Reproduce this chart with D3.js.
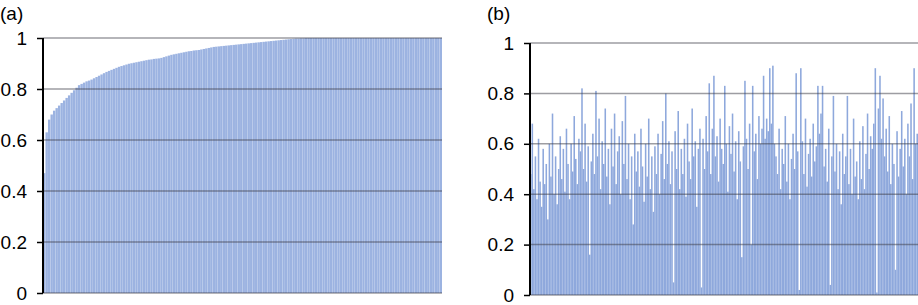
<!DOCTYPE html>
<html>
<head>
<meta charset="utf-8">
<script src="https://cdn.jsdelivr.net/npm/d3@7"></script>
<style>
  body { margin: 0; background: #fff; }
  svg { display: block; font-family: "Liberation Sans", Arial, Helvetica, sans-serif; }
</style>
</head>
<body>
<div class="draw"></div>
<script>
const width = 918
const height = 305

// panel (a): sorted values, rising steeply and levelling off at 1
const valuesA = [
  0.47, 0.63, 0.68, 0.70, 0.715, 0.725, 0.735, 0.745, 0.755, 0.765,
  0.775, 0.785, 0.795, 0.805, 0.815, 0.82, 0.825, 0.83, 0.833, 0.837,
  0.842, 0.847, 0.852, 0.857, 0.862, 0.867, 0.871, 0.875, 0.879, 0.883,
  0.887, 0.89, 0.893, 0.896, 0.899, 0.901, 0.903, 0.905, 0.907, 0.909,
  0.911, 0.913, 0.915, 0.916, 0.918, 0.919, 0.92, 0.922, 0.925, 0.928,
  0.931, 0.934, 0.936, 0.938, 0.94, 0.942, 0.944, 0.946, 0.948, 0.949,
  0.951, 0.952, 0.953, 0.955, 0.957, 0.959, 0.961, 0.963, 0.965, 0.966,
  0.967, 0.968, 0.969, 0.97, 0.971, 0.972, 0.973, 0.974, 0.975, 0.976,
  0.977, 0.978, 0.979, 0.98, 0.981, 0.982, 0.983, 0.984, 0.985, 0.986,
  0.987, 0.988, 0.989, 0.99, 0.991, 0.992, 0.993, 0.994, 0.995, 0.996,
  0.997, 0.998, 0.998, 0.999, 0.999, 1, 1, 1, 1, 1,
  1, 1, 1, 1, 1, 1, 1, 1, 1, 1,
  1, 1, 1, 1, 1, 1, 1, 1, 1, 1,
  1, 1, 1, 1, 1, 1, 1, 1, 1, 1,
  1, 1, 1, 1, 1, 1, 1, 1, 1, 1,
  1, 1, 1, 1, 1, 1, 1, 1, 1, 1
]

// panel (b): unsorted, noisy values
const valuesB = [
  0.48, 0.68, 0.42, 0.55, 0.38, 0.62, 0.45, 0.35, 0.58, 0.44,
  0.52, 0.30, 0.60, 0.47, 0.72, 0.40, 0.55, 0.36, 0.50, 0.63,
  0.46, 0.58, 0.41, 0.66, 0.52, 0.38, 0.60, 0.49, 0.71, 0.54,
  0.44, 0.62, 0.57, 0.82, 0.50, 0.68, 0.45, 0.59, 0.16, 0.53,
  0.64, 0.48, 0.81, 0.55, 0.70, 0.42, 0.61, 0.52, 0.74, 0.47,
  0.58, 0.36, 0.66, 0.51, 0.72, 0.44, 0.57, 0.63, 0.40, 0.69,
  0.52, 0.79, 0.46, 0.60, 0.38, 0.55, 0.28, 0.64, 0.49, 0.57,
  0.43, 0.66, 0.51, 0.37, 0.60, 0.47, 0.70, 0.42, 0.55, 0.33,
  0.59, 0.48, 0.64, 0.40, 0.56, 0.69, 0.46, 0.80, 0.52, 0.61,
  0.44, 0.57, 0.05, 0.65, 0.50, 0.73, 0.42, 0.58, 0.48, 0.62,
  0.39, 0.68, 0.53, 0.46, 0.74, 0.55, 0.61, 0.35, 0.58, 0.66,
  0.03, 0.62, 0.50, 0.71, 0.57, 0.84, 0.48, 0.66, 0.87, 0.55,
  0.63, 0.45, 0.70, 0.58, 0.52, 0.83, 0.60, 0.41, 0.67, 0.56,
  0.72, 0.49, 0.61, 0.38, 0.65, 0.53, 0.15, 0.59, 0.85, 0.62,
  0.50, 0.68, 0.20, 0.83, 0.57, 0.64, 0.46, 0.71, 0.60, 0.66,
  0.87, 0.62, 0.70, 0.65, 0.90, 0.68, 0.91, 0.60, 0.55, 0.48,
  0.66, 0.42, 0.58, 0.52, 0.71, 0.45, 0.60, 0.38, 0.54, 0.64,
  0.50, 0.88, 0.57, 0.02, 0.90, 0.61, 0.48, 0.70, 0.43, 0.56,
  0.62, 0.47, 0.68, 0.53, 0.59, 0.83, 0.64, 0.72, 0.83, 0.51,
  0.58, 0.45, 0.66, 0.04, 0.55, 0.79, 0.49, 0.60, 0.42, 0.57,
  0.36, 0.64, 0.48, 0.55, 0.79, 0.44, 0.58, 0.40, 0.70, 0.47,
  0.53, 0.38, 0.61, 0.46, 0.67, 0.42, 0.56, 0.72, 0.50, 0.63,
  0.58, 0.68, 0.90, 0.01, 0.74, 0.87, 0.62, 0.78, 0.55, 0.66,
  0.49, 0.71, 0.44, 0.60, 0.52, 0.10, 0.65, 0.47, 0.58, 0.73,
  0.51, 0.62, 0.40, 0.68, 0.55, 0.76, 0.46, 0.90, 0.60, 0.64
]

const yTicks = [0, 0.2, 0.4, 0.6, 0.8, 1]
const tickLabels = ["0", "0.2", "0.4", "0.6", "0.8", "1"]
const panelLabels = ["(a)", "(b)"]

let svg = d3.select("div.draw")
    .append("svg")
    .attr("width", width)
    .attr("height", height)

function drawPanel(values, label, box){
  let g = svg.append("g")

  let x = d3.scaleBand()
      .domain(d3.range(values.length))
      .range([box.left, box.right])
      .paddingInner(box.pad)

  let y = d3.scaleLinear()
      .domain([0, 1])
      .range([box.bottom, box.top])

  g.selectAll("rect.bar")
    .data(values)
    .enter()
    .append("rect")
    .attr("class", "bar")
    .attr("x", (d, i) => x(i))
    .attr("width", x.bandwidth())
    .attr("y", d => y(d))
    .attr("height", d => y(0) - y(d))
    .style("fill", box.fill)

  // gridlines sit over the bars, so they show darker inside the blue
  g.selectAll("line.grid")
    .data(yTicks)
    .enter()
    .append("line")
    .attr("class", "grid")
    .attr("x1", box.left)
    .attr("x2", box.right)
    .attr("y1", d => y(d))
    .attr("y2", d => y(d))
    .style("stroke", "#3c3c46")
    .style("stroke-opacity", 0.5)
    .style("stroke-width", 1.5)

  let axis = d3.axisLeft(y)
      .tickValues(yTicks)
      .tickFormat((d, i) => tickLabels[i])
      .tickSize(6)
      .tickPadding(10)

  let ax = g.append("g")
      .attr("transform", "translate(" + box.left + ",0)")
      .call(axis)

  ax.select(".domain")
      .attr("d", "M0," + box.top + "V" + box.bottom)
      .style("stroke", "#000")
      .style("stroke-width", 2)
  ax.selectAll(".tick line")
      .style("stroke", "#000")
      .style("stroke-width", 1.5)
  ax.selectAll(".tick text")
      .style("font-size", "19px")
      .style("font-family", "'Liberation Sans', Arial, sans-serif")
      .style("fill", "#000")

  g.append("text")
    .attr("x", box.labelX)
    .attr("y", 20)
    .style("font-size", "19px")
    .style("fill", "#000")
    .text(label)
}

drawPanel(valuesA, panelLabels[0], {
  left: 43, right: 442, top: 38, bottom: 293,
  pad: 0.04, fill: "#9cb3e1", labelX: 0
})

drawPanel(valuesB, panelLabels[1], {
  left: 530, right: 918, top: 43, bottom: 295,
  pad: 0, fill: "#8ea8dc", labelX: 487
})
</script>
</body>
</html>
